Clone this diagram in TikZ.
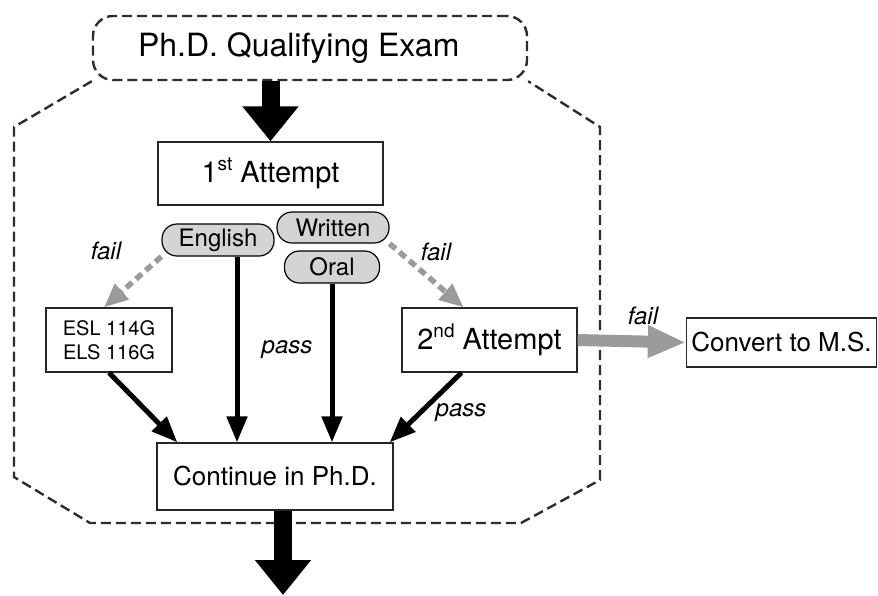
\documentclass[tikz,border=0pt]{standalone}
\usepackage{fontspec}
\setmainfont{TeX Gyre Heros}
\usetikzlibrary{arrows.meta}
\definecolor{fillgray}{RGB}{212,212,212}
\definecolor{arrgray}{RGB}{155,155,155}
\definecolor{dashc}{RGB}{45,45,45}
\newcommand{\supx}[1]{\raisebox{0.42em}{\fontsize{19}{22}\selectfont #1}}
\begin{document}
\begin{tikzpicture}[x=1pt,y=-1pt,
  boxst/.style={draw=black!85, line width=1.3pt, fill=white, inner sep=0pt, align=center},
  pill/.style={draw=black, line width=1.2pt, fill=fillgray, rounded corners=15pt, inner sep=0pt, font=\fontsize{24}{28}\selectfont},
  bigarrow/.style={line width=18pt, -{Triangle[width=54pt,length=35pt]}},
  blackarrow/.style={line width=5pt, -{Triangle[width=20pt,length=26pt]}},
  grayfail/.style={arrgray, line width=5.5pt, dash pattern=on 8pt off 5pt, -{Triangle[width=20pt,length=24pt]}},
  grayfat/.style={arrgray, line width=12pt, -{Triangle[width=30pt,length=38pt]}},
  frame/.style={dashc, line width=2.4pt, dash pattern=on 10pt off 5pt},
  lbl/.style={font=\fontsize{24}{28}\selectfont\itshape, inner sep=0pt}
]
\useasboundingbox (0,0) rectangle (878,595);

% title box
\node[frame, draw, text=black, rounded corners=20pt, minimum width=434pt, minimum height=64pt, inner sep=0pt,
      font=\fontsize{32}{38}\selectfont] (title) at (310,48)
      {\makebox[434pt][l]{\hspace{45pt}Ph.D. Qualifying Exam}};

% octagon frame
\draw[frame] (title.south west) -- (14,127) -- (14,477) -- (90,523) -- (521,523)
  -- (600,480) -- (600,127) -- (title.south east);

% boxes
\node[boxst, minimum width=225pt, minimum height=63pt, font=\fontsize{29}{34}\selectfont] (a1) at (270.5,173.5) {1\supx{st} Attempt};
\node[pill, minimum width=112pt, minimum height=32pt] (eng) at (218,240) {English};
\node[pill, minimum width=112pt, minimum height=31pt] (wri) at (333,227.5) {Written};
\node[pill, minimum width=95pt, minimum height=32pt] (oral) at (332,267) {Oral};
\node[boxst, minimum width=126pt, minimum height=64pt, font=\fontsize{20}{24}\selectfont] (esl) at (109,340) {ESL 114G\\ELS 116G};
\node[boxst, minimum width=175pt, minimum height=64pt, font=\fontsize{29}{34}\selectfont] (a2) at (489.5,340) {2\supx{nd} Attempt};
\node[boxst, minimum width=190pt, minimum height=49pt, font=\fontsize{26}{30}\selectfont] (ms) at (781.5,342.5) {Convert to M.S.};
\node[boxst, minimum width=236pt, minimum height=67pt, font=\fontsize{26}{30}\selectfont] (cont) at (275,476.5) {Continue in Ph.D.};
\coordinate (out) at (283,595);

% connectors
\draw[bigarrow] (a1.north |- title.south) -- (a1.north);
\draw[blackarrow] ([xshift=19pt]eng.south) -- ([xshift=19pt]eng.south |- cont.north);
\draw[blackarrow] (oral.south) -- (oral.south |- cont.north);
\draw[grayfail] (eng.south west) -- ([xshift=-5pt]esl.north);
\draw[grayfail] (wri.south east) -- ([xshift=-26pt]a2.north);
\draw[blackarrow] (esl.south) -- ([xshift=21pt]cont.north west);
\draw[blackarrow] ([xshift=-28pt]a2.south) -- ([xshift=-4pt]cont.north east);
\draw[grayfat] (a2.east) -- (ms.west);
\draw[bigarrow] ([xshift=8pt]cont.south) -- (out);

% labels
\node[lbl] (f1) at (106,251) {fail};
\node[lbl] (f2) at (436,252) {fail};
\node[lbl] (f3) at (643,316) {fail};
\node[lbl] (p1) at (287,350) {pass};
\node[lbl] (p2) at (461,413) {pass};
\end{tikzpicture}
\end{document}
